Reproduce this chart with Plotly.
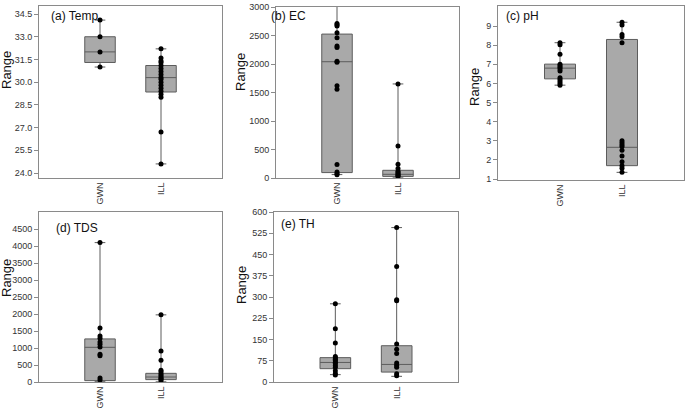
import plotly.graph_objects as go

W, H = 685, 411

groups = ["GWN", "ILL"]

# (a) Temp
temp_gwn = [34.1, 33.0, 32.0, 31.0]
temp_ill = [32.2, 31.6, 31.4, 31.3, 31.1, 30.9, 30.7, 30.5, 30.3, 30.2,
            30.0, 29.8, 29.6, 29.4, 29.2, 29.0, 26.7, 24.6]
temp_q1 = [31.3, 29.35]
temp_med = [32.0, 30.3]
temp_q3 = [33.0, 31.1]
temp_lo = [31.0, 24.6]
temp_hi = [34.1, 32.2]

# (b) EC
ec_gwn = [2710, 2690, 2665, 2550, 2460, 2315, 2290, 2050, 2030, 1620,
          1555, 235, 105, 75, 58]
ec_ill = [1650, 560, 240, 165, 120, 95, 75, 55, 40, 25]
ec_q1 = [95, 28]
ec_med = [2040, 65]
ec_q3 = [2525, 135]
ec_lo = [60, 15]
ec_hi = [3200, 1650]

# (c) pH
ph_gwn = [8.13, 8.02, 7.53, 7.0, 6.92, 6.85, 6.75, 6.65, 6.3, 6.2, 6.1,
          6.0, 5.91]
ph_ill = [9.2, 9.05, 8.56, 8.44, 8.13, 3.0, 2.9, 2.8, 2.7, 2.5, 2.2, 1.9,
          1.7, 1.56, 1.35]
ph_q1 = [6.24, 1.7]
ph_med = [6.8, 2.66]
ph_q3 = [7.01, 8.3]
ph_lo = [5.91, 1.35]
ph_hi = [8.13, 9.2]

# (d) TDS
tds_gwn = [4100, 1590, 1355, 1290, 1180, 1110, 1030, 815, 775, 118, 60]
tds_ill = [1975, 914, 640, 345, 300, 245, 195, 147, 110, 80, 40]
tds_q1 = [40, 70]
tds_med = [1020, 147]
tds_q3 = [1267, 255]
tds_lo = [20, 5]
tds_hi = [4100, 1975]

# (e) TH
th_gwn = [276, 188, 138, 90, 85, 80, 76, 70, 65, 58, 52, 40, 30, 25]
th_ill = [545, 408, 290, 287, 134, 116, 101, 67, 59, 52, 29, 22]
th_q1 = [47, 35]
th_med = [69, 62]
th_q3 = [86, 128]
th_lo = [26, 20]
th_hi = [276, 545]

panels = [
    ("(a) Temp", temp_gwn, temp_ill, temp_q1, temp_med, temp_q3, temp_lo, temp_hi,
     [23.67, 35.03], [24.0 + 1.5 * i for i in range(8)], ".1f"),
    ("(b) EC", ec_gwn, ec_ill, ec_q1, ec_med, ec_q3, ec_lo, ec_hi,
     [0, 3000], list(range(0, 3001, 500)), "d"),
    ("(c) pH", ph_gwn, ph_ill, ph_q1, ph_med, ph_q3, ph_lo, ph_hi,
     [0.95, 10.05], list(range(1, 10)), "d"),
    ("(d) TDS", tds_gwn, tds_ill, tds_q1, tds_med, tds_q3, tds_lo, tds_hi,
     [0, 5000], list(range(0, 4501, 500)), "d"),
    ("(e) TH", th_gwn, th_ill, th_q1, th_med, th_q3, th_lo, th_hi,
     [0, 600], list(range(0, 601, 75)), "d"),
]

# pixel boxes of the plot areas: (left, right, top, bottom)
frames = [(39, 222, 6, 178), (276, 459, 7, 178), (498, 684, 6, 180),
          (39, 222, 212, 382), (274, 458, 212, 382)]
# label and y-title positions in pixels
label_pos = [(49, 16), (269, 16), (504, 16), (54, 228), (279, 224)]
title_pos = [(6, 70), (240, 72), (475, 87), (6, 278), (241, 285)]

BOX_FILL = "#a9a9a9"
BOX_LINE = "#5c5c5c"
FRAME = "#8a8a8a"
FONT = "Arial"

fig = go.Figure()
annotations = []

for i, (label, gwn, ill, q1, med, q3, lo, hi, yr, tv, fmt) in enumerate(panels):
    n = "" if i == 0 else str(i + 1)
    xa, ya = "x" + n, "y" + n

    fig.add_trace(go.Box(
        x=groups, q1=q1, median=med, q3=q3, lowerfence=lo, upperfence=hi,
        xaxis=xa, yaxis=ya, width=0.5, whiskerwidth=0.35,
        fillcolor=BOX_FILL, line=dict(color=BOX_LINE, width=1),
        boxpoints=False, showlegend=False, hoverinfo="skip",
    ))
    fig.add_trace(go.Scatter(
        x=["GWN"] * len(gwn) + ["ILL"] * len(ill), y=gwn + ill,
        mode="markers", xaxis=xa, yaxis=ya,
        marker=dict(color="black", size=5),
        showlegend=False, cliponaxis=True,
    ))

    l, r, t, b = frames[i]
    fig.layout["xaxis" + n] = dict(
        domain=[l / W, r / W], anchor=ya, type="category",
        categoryorder="array", categoryarray=groups, range=[-1, 2],
        showline=True, mirror=True, linecolor=FRAME, linewidth=1,
        showgrid=False, zeroline=False, ticks="", tickangle=-90,
        automargin=False, ticklabelstandoff=0,
        tickfont=dict(family=FONT, size=9, color="#333333"),
    )
    fig.layout["yaxis" + n] = dict(
        domain=[1 - b / H, 1 - t / H], anchor=xa, range=yr,
        tickvals=tv, tickformat=fmt, automargin=False,
        showline=True, mirror=True, linecolor=FRAME, linewidth=1,
        showgrid=False, zeroline=False, ticks="outside", ticklen=4,
        tickcolor=FRAME, ticklabelstandoff=0,
        tickfont=dict(family=FONT, size=9, color="#333333"),
    )

    lx, ly = label_pos[i]
    annotations.append(dict(
        text=label, x=lx / W, y=1 - ly / H, xref="paper", yref="paper",
        xanchor="left", yanchor="middle", showarrow=False,
        font=dict(family=FONT, size=12, color="#111111"),
    ))
    tx, ty = title_pos[i]
    annotations.append(dict(
        text="Range", x=tx / W, y=1 - ty / H, xref="paper", yref="paper",
        xanchor="center", yanchor="middle", showarrow=False, textangle=-90,
        font=dict(family=FONT, size=13, color="#111111"),
    ))

fig.update_layout(
    width=W, height=H,
    margin=dict(l=0, r=0, t=0, b=0),
    paper_bgcolor="white", plot_bgcolor="white",
    annotations=annotations,
    font=dict(family=FONT),
)

# drop the default page margin so the figure sits at the window's corner
fig.write_html(
    "out.html",
    config={"displayModeBar": False},
    post_script="document.body.style.margin='0';document.body.style.overflow='hidden';",
)
